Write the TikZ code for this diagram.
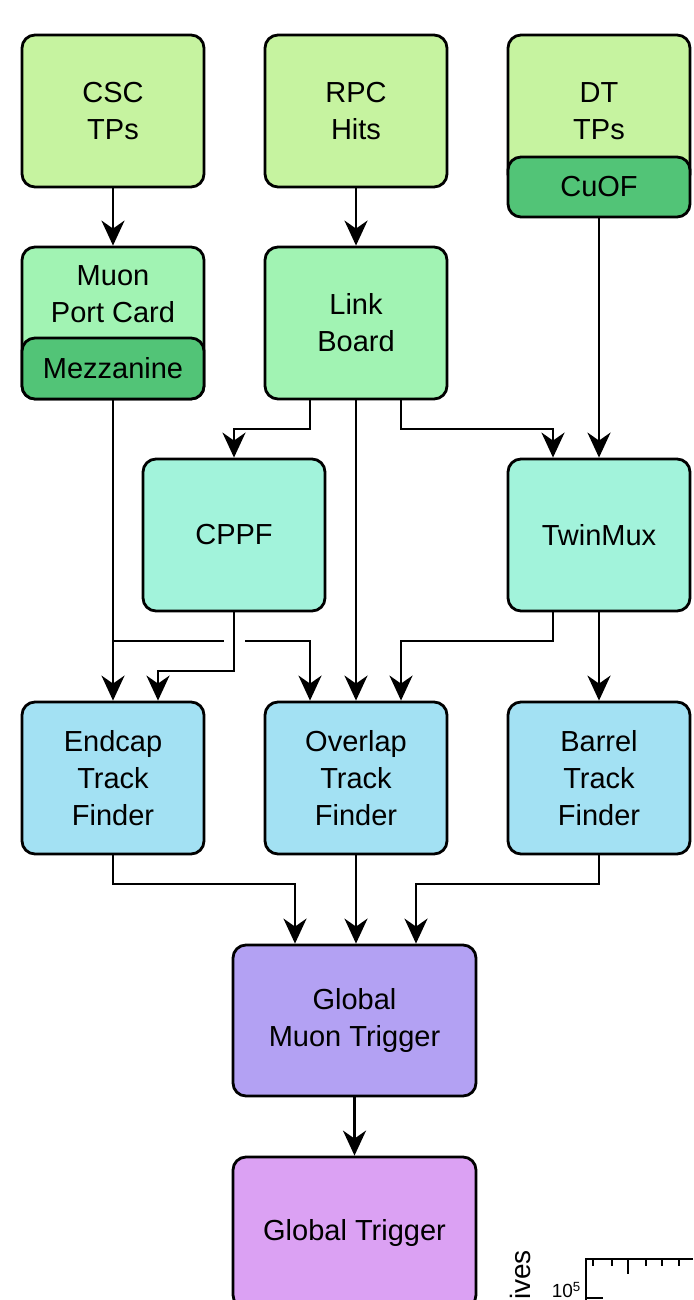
\documentclass[tikz,border=0pt]{standalone}
\usepackage{fontspec}
\setmainfont{Liberation Sans}
\usetikzlibrary{positioning,arrows.meta,calc}
\definecolor{srcgreen}{HTML}{C6F3A0}
\definecolor{bandgreen}{HTML}{52C477}
\definecolor{brdgreen}{HTML}{A1F3B3}
\definecolor{concyan}{HTML}{A2F3DB}
\definecolor{tfblue}{HTML}{A3E1F3}
\definecolor{gmtviolet}{HTML}{B3A1F3}
\definecolor{gtpink}{HTML}{DBA1F3}
\tikzset{
  blk/.style={draw=black,line width=2.8pt,rounded corners=13pt,minimum width=182pt,
    minimum height=152pt,align=center,inner sep=0pt,font=\fontsize{29}{37}\selectfont},
  band/.style={blk,minimum height=61pt},
  wide/.style={blk,minimum width=243pt,minimum height=151pt},
  txt/.style={align=center,inner sep=0pt,font=\fontsize{29}{37}\selectfont},
  flow/.style={-{Stealth[length=25pt,width=23pt,inset=8pt]},line width=2.7pt},
  wire/.style={line width=2.7pt},
  axln/.style={line width=1.8pt},
}
\begin{document}
\begin{tikzpicture}[x=1pt,y=-1pt]
  \useasboundingbox (0,0) rectangle (693,1300);
  \clip (0,0) rectangle (693,1300);
  % trigger primitives
  \node[blk,fill=srcgreen] (csc) at (113,111) {CSC\\TPs};
  \node[blk,fill=srcgreen] (rpc) at (356,111) {RPC\\Hits};
  \node[blk,fill=srcgreen] (dt) at (599,111) {DT\\TPs};
  \node[band,minimum height=60pt,fill=bandgreen] (cuof) at (599,187) {CuOF};
  % concentrators
  \node[blk,fill=brdgreen] (mpc) at (113,323) {};
  \node[txt] (mpctxt) at (113,294.5) {Muon\\Port Card};
  \node[band,fill=bandgreen] (mezz) at (113,368.5) {Mezzanine};
  \node[blk,fill=brdgreen] (lb) at (356,323) {Link\\Board};
  \node[blk,fill=concyan] (cppf) at (234,535) {CPPF};
  \node[blk,fill=concyan] (twin) at (599,535) {TwinMux};
  % track finders
  \node[blk,fill=tfblue] (emtf) at (113,778) {Endcap\\Track\\Finder};
  \node[blk,fill=tfblue] (omtf) at (356,778) {Overlap\\Track\\Finder};
  \node[blk,fill=tfblue] (bmtf) at (599,778) {Barrel\\Track\\Finder};
  % global
  \node[wide,fill=gmtviolet] (gmt) at (354.5,1020.5) {Global\\Muon Trigger};
  \node[wide,fill=gtpink] (gt) at (354.5,1232.5) {Global Trigger};
  % connections
  \draw[flow] (csc) -- (mpc);
  \draw[flow] (rpc) -- (lb);
  \draw[flow] ($(lb.south)+(-46,0)$) |- (234,429) -- (cppf.north);
  \draw[flow] (lb) -- (omtf);
  \draw[flow] ($(lb.south)+(45,0)$) |- (553,429) -- ($(twin.north)+(-46,0)$);
  \draw[flow] (cuof) -- (twin);
  \draw[flow] (mezz) -- (emtf);
  \coordinate (mpcsplit) at (113,641);
  \draw[wire] (mpcsplit) -- ++(111,0);
  \draw[flow] ($(mpcsplit)+(132,0)$) -| ($(omtf.north)+(-46,0)$);
  \draw[flow] (cppf.south) |- (158,671) -- ($(emtf.north)+(45,0)$);
  \draw[flow] ($(twin.south)+(-46,0)$) |- (401,641) -- ($(omtf.north)+(45,0)$);
  \draw[flow] (twin) -- (bmtf);
  \draw[flow] (emtf.south) |- (295,884) -- ($(gmt.north)+(-59.5,0)$);
  \draw[flow] (omtf.south) -- ($(gmt.north)+(1.5,0)$);
  \draw[flow] (bmtf.south) |- (416,884) -- ($(gmt.north)+(61.5,0)$);
  \draw[flow] (gmt) -- (gt);
  % cut-off plot at the bottom edge
  \node[rotate=90,anchor=south,font=\fontsize{28}{30}\selectfont] (ylbl) at (534,1275) {ives};
  \node[font=\fontsize{19}{21}\selectfont,anchor=south east,inner sep=1pt] (yexp) at (582,1299) {10\textsuperscript{5}};
  \draw[axln] (693,1259) -- (586,1259) -- (586,1300);
  \draw[axln] (586,1298) -- (603,1298);
  \foreach \t in {593,612,646,662,679} \draw[axln] (\t,1259) -- (\t,1266);
  \draw[axln] (628,1259) -- (628,1274);
\end{tikzpicture}
\end{document}
